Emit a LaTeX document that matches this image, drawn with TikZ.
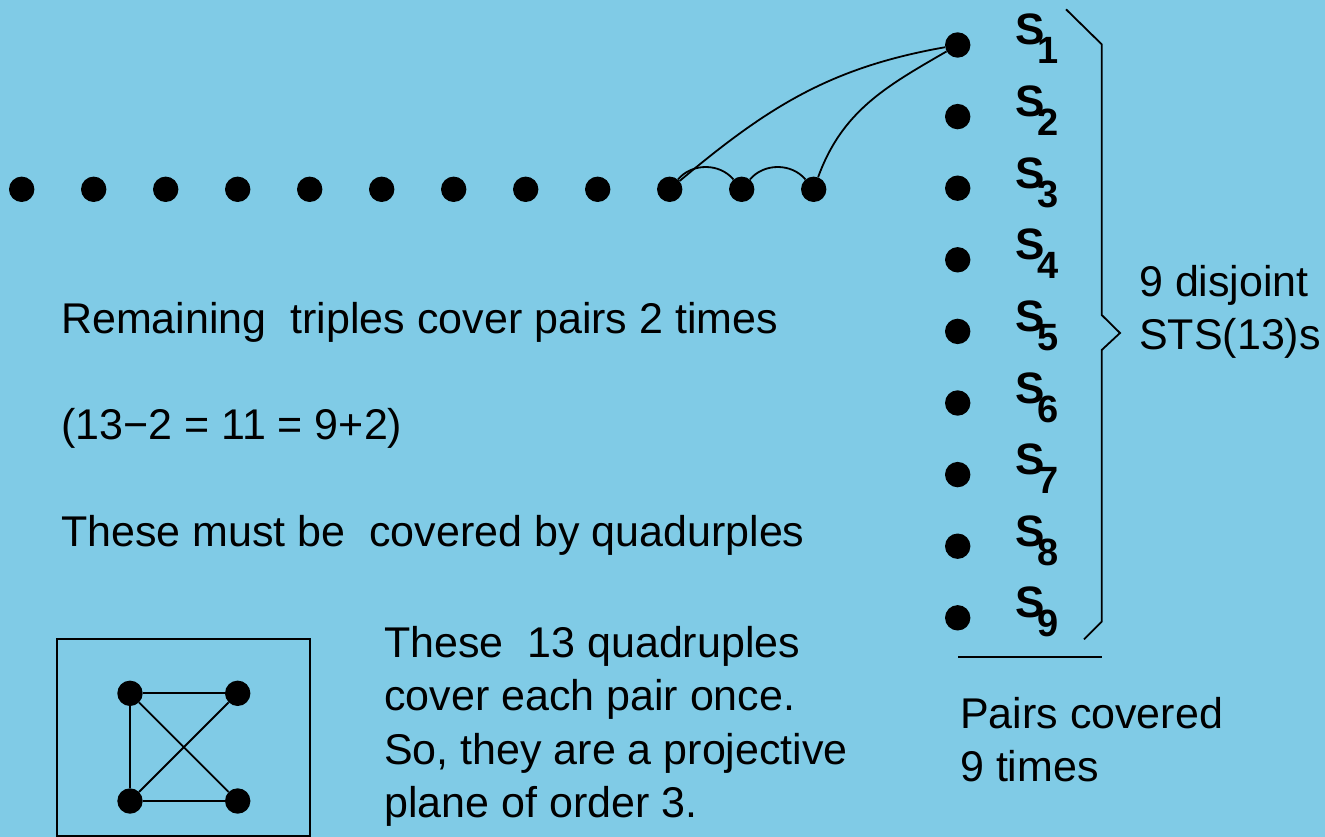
\documentclass[tikz,border=0pt]{standalone}
\usepackage{fontspec}
\setmainfont{Liberation Sans}
\usepackage{tikz}
\definecolor{sky}{HTML}{80CBE6}
\newcommand{\slab}[1]{S\kern-7pt\raisebox{-19pt}{\fontsize{38}{38}\selectfont\bfseries #1}}

\begin{document}
\begin{tikzpicture}[
  x=1pt, y=-1pt,
  vertex/.style={circle, fill=black, minimum size=25.4pt, inner sep=0pt},
  link/.style={line width=1.8pt},
  txt/.style={font=\fontsize{43}{53.5}\selectfont, inner sep=0pt, anchor=base west},
  para/.style={font=\fontsize{43}{53.5}\selectfont, inner sep=0pt, anchor=north west, align=left},
  slabel/.style={font=\fontsize{44}{44}\selectfont\bfseries, inner sep=0pt, anchor=base west},
]

\fill[sky] (0,0) rectangle (1325,837);
\useasboundingbox (0,0) rectangle (1325,837);

% row of points
\node[vertex] (d1) at (21.7, 189.3) {};
\node[vertex] (d2) at (93.7, 189.3) {};
\node[vertex] (d3) at (165.7, 189.3) {};
\node[vertex] (d4) at (237.7, 189.3) {};
\node[vertex] (d5) at (309.7, 189.3) {};
\node[vertex] (d6) at (381.7, 189.3) {};
\node[vertex] (d7) at (453.7, 189.3) {};
\node[vertex] (d8) at (525.7, 189.3) {};
\node[vertex] (d9) at (597.7, 189.3) {};
\node[vertex] (d10) at (669.7, 189.3) {};
\node[vertex] (d11) at (741.7, 189.3) {};
\node[vertex] (d12) at (813.7, 189.3) {};

% column of systems
\node[vertex] (s1) at (957.7, 45.0) {};
\node[vertex] (s2) at (957.7, 116.6) {};
\node[vertex] (s3) at (957.7, 188.2) {};
\node[vertex] (s4) at (957.7, 259.8) {};
\node[vertex] (s5) at (957.7, 331.4) {};
\node[vertex] (s6) at (957.7, 403.0) {};
\node[vertex] (s7) at (957.7, 474.6) {};
\node[vertex] (s8) at (957.7, 546.2) {};
\node[vertex] (s9) at (957.7, 617.8) {};

\node[slabel] (l1) at (1015, 45.0) {\slab{1}};
\node[slabel] (l2) at (1015, 116.6) {\slab{2}};
\node[slabel] (l3) at (1015, 188.2) {\slab{3}};
\node[slabel] (l4) at (1015, 259.8) {\slab{4}};
\node[slabel] (l5) at (1015, 331.4) {\slab{5}};
\node[slabel] (l6) at (1015, 403.0) {\slab{6}};
\node[slabel] (l7) at (1015, 474.6) {\slab{7}};
\node[slabel] (l8) at (1015, 546.2) {\slab{8}};
\node[slabel] (l9) at (1015, 617.8) {\slab{9}};

\draw[link] (d10) to[out=40, in=190] (s1);
\draw[link] (d12) to[out=70, in=210] (s1);
\draw[link] (d10) to[bend left=50] (d11);
\draw[link] (d11) to[bend left=50] (d12);

% brace and rule
\draw[link] (1066,9.3) -- (1101.7,44.3) -- (1101.7,315) -- (1120,333)
  -- (1101.7,350) -- (1101.7,621.7) -- (1084,639.3);
\draw[link] (958,657.3) -- (1101.7,657.3);

\node[para] (sts) at (1139, 265) {9 disjoint\\STS(13)s};
\node[para] (pairs) at (960, 697) {Pairs covered\\9 times};

\node[txt] (rem) at (61, 333.3) {Remaining\ \ triples cover pairs 2 times};
\node[txt] (calc) at (61, 439.3) {(13−2 = 11 = 9+2)};
\node[txt] (must) at (61, 546) {These must be\ \ covered by quadurples};

% small plane
\draw[link] (57.3,639.3) rectangle (310,836);
\node[vertex] (k1) at (130, 693.3) {};
\node[vertex] (k2) at (237.7, 693.3) {};
\node[vertex] (k3) at (130, 801) {};
\node[vertex] (k4) at (237.7, 801) {};
\draw[link] (k1) -- (k2);
\draw[link] (k1) -- (k3);
\draw[link] (k1) -- (k4);
\draw[link] (k3) -- (k2);
\draw[link] (k3) -- (k4);

\node[para] (quad) at (384, 626) {These\ \ 13 quadruples\\cover each pair once.\\So, they are a projective\\plane of order 3.};

\end{tikzpicture}
\end{document}
